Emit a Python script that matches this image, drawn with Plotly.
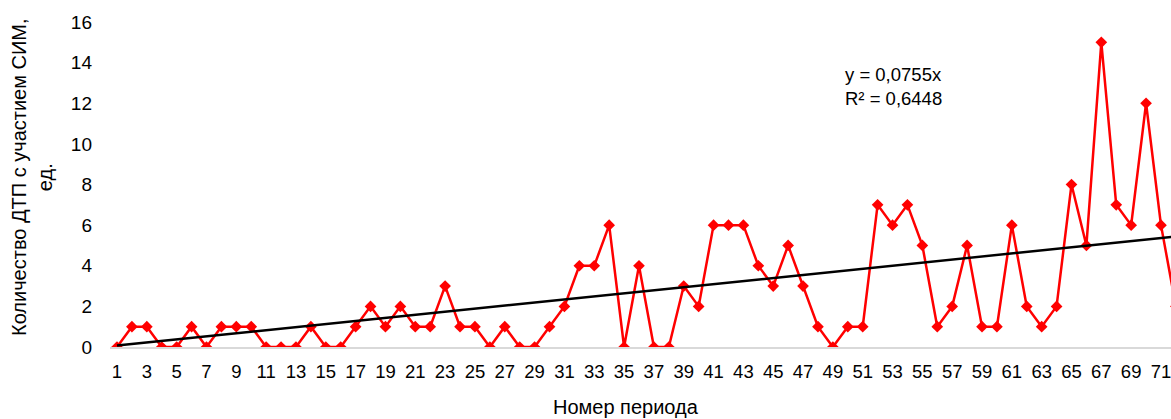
import numpy as np
import plotly.graph_objects as go

# Periods and number of accidents per period
periods = list(range(1, 73))
accidents = [0, 1, 1, 0, 0, 1, 0, 1, 1, 1,
             0, 0, 0, 1, 0, 0, 1, 2, 1, 2,
             1, 1, 3, 1, 1, 0, 1, 0, 0, 1,
             2, 4, 4, 6, 0, 4, 0, 0, 3, 2,
             6, 6, 6, 4, 3, 5, 3, 1, 0, 1,
             1, 7, 6, 7, 5, 1, 2, 5, 1, 1,
             6, 2, 1, 2, 8, 5, 15, 7, 6, 12,
             6, 2]

# Linear trend forced through the origin
trend_slope = 0.0755
trend_r2 = 0.6448
trend_x = [periods[0], periods[-1]]
trend_y = [trend_slope * v for v in trend_x]

y_ticks = [0, 2, 4, 6, 8, 10, 12, 14, 16]
x_ticks = list(range(1, 72, 2))

FONT = "Arial, 'Liberation Sans', sans-serif"

W, H = 1171, 419
ML, MR, MT, MB = 110, 0, 22, 72
PW = W - ML - MR
PH = H - MT - MB

fig = go.Figure()

fig.add_trace(go.Scatter(
    x=periods, y=accidents, mode="lines+markers",
    line=dict(color="#FF0000", width=2.5),
    marker=dict(symbol="diamond", size=9, color="#FF0000"),
    showlegend=False, hoverinfo="x+y",
))

fig.add_trace(go.Scatter(
    x=trend_x, y=trend_y, mode="lines",
    line=dict(color="#000000", width=2.5),
    showlegend=False, hoverinfo="skip",
))

# Horizontal span: one category step is the distance between adjacent periods
step = 14.914
x_lo = 1 - (117 - ML) / step
x_hi = 1 + (W - 117) / step

fig.update_layout(
    width=W, height=H,
    margin=dict(l=ML, r=MR, t=MT, b=MB, pad=0),
    paper_bgcolor="white", plot_bgcolor="white",
    font=dict(family=FONT, size=19, color="#000000"),
    xaxis=dict(
        range=[x_lo, x_hi], tickmode="array", tickvals=x_ticks,
        ticktext=[str(t) for t in x_ticks],
        showgrid=False, zeroline=False,
        showline=True, linecolor="#D9D9D9", linewidth=1.5,
        ticks="", ticklabelstandoff=7, ticklabeloverflow="allow",
        tickfont=dict(family=FONT, size=18.5, color="#000000"),
    ),
    yaxis=dict(
        range=[0, 16], tickmode="array", tickvals=y_ticks,
        ticktext=[str(t) for t in y_ticks],
        showgrid=False, zeroline=False, showline=False,
        ticks="", ticklabelstandoff=17,
        tickfont=dict(family=FONT, size=19, color="#000000"),
    ),
)

def px_x(p):
    return (p - ML) / PW

def px_y(p):
    return (H - MB - p) / PH

fig.add_annotation(
    text="Номер периода", xref="paper", yref="paper",
    x=px_x(626), y=px_y(407), xanchor="center", yanchor="middle",
    showarrow=False, font=dict(family=FONT, size=20, color="#000000"),
)

fig.add_annotation(
    text="Количество ДТП с участием СИМ,<br>ед.", xref="paper", yref="paper",
    x=px_x(32), y=px_y(177), xanchor="center", yanchor="middle",
    textangle=-90, showarrow=False,
    font=dict(family=FONT, size=20, color="#000000"),
)

slope_txt = f"{trend_slope:.4f}".replace(".", ",")
r2_txt = f"{trend_r2:.4f}".replace(".", ",")
fig.add_annotation(
    text=f"y = {slope_txt}x<br>R² = {r2_txt}", xref="paper", yref="paper",
    x=px_x(843), y=px_y(87), xanchor="left", yanchor="middle",
    align="left", showarrow=False,
    font=dict(family=FONT, size=18.5, color="#000000"),
)

fig.write_html("out.html")
